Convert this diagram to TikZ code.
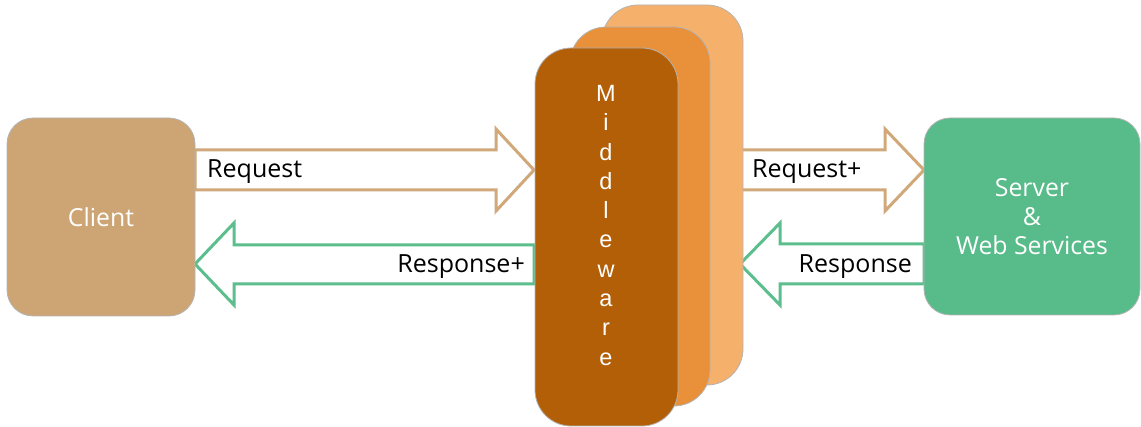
\documentclass[tikz,border=0pt]{standalone}
\usepackage{fontspec}
\usetikzlibrary{calc}
\setmainfont{Open Sans}
\newfontfamily\arialfont{Liberation Sans}
\definecolor{tan}{HTML}{CDA574}
\definecolor{tanline}{HTML}{D0A879}
\definecolor{grn}{HTML}{58BB8A}
\definecolor{grnline}{HTML}{5BBE8C}
\definecolor{orA}{HTML}{F5B06B}
\definecolor{orB}{HTML}{E8913A}
\definecolor{orC}{HTML}{B35F07}
\definecolor{edge}{HTML}{B4B4B4}
\begin{document}
\begin{tikzpicture}[x=1pt,y=-1pt,
  box/.style={draw=edge,line width=0.8pt,inner sep=0pt,text=white,
    font=\fontsize{24.8}{29}\selectfont,align=center},
  mwbox/.style={draw=edge,line width=0.8pt,rounded corners=36pt},
  reqarrow/.style={draw=tanline,fill=white,line width=3pt,line join=miter},
  resarrow/.style={draw=grnline,fill=white,line width=3pt,line join=miter},
  lbl/.style={inner sep=0pt,text=black,font=\fontsize{25}{30}\selectfont},
  mwtext/.style={inner sep=0pt,text=white,font=\arialfont\fontsize{23.5}{28}\selectfont}]
\useasboundingbox (0,0) rectangle (1141,427);
% arrows first
\draw[reqarrow] (195,150) -- (496,150) -- (496,129) -- (534,170) -- (496,211) -- (496,190) -- (195,190) -- cycle;
\draw[resarrow] (534,245) -- (234,245) -- (234,223) -- (195,264) -- (234,305) -- (234,284) -- (534,284) -- cycle;
\draw[reqarrow] (739,150) -- (885,150) -- (885,129) -- (924,170) -- (885,211) -- (885,190) -- (739,190) -- cycle;
\draw[resarrow] (924,244) -- (780,244) -- (780,223) -- (740,264) -- (780,305) -- (780,284) -- (924,284) -- cycle;
% boxes
\node[box,fill=tan,rounded corners=26pt,minimum width=188pt,minimum height=198pt] (client) at (101,217) {Client};
\node[box,fill=grn,rounded corners=26pt,minimum width=216pt,minimum height=197pt] (server) at (1032,216.5) {Server\\\&\\Web Services};
\draw[mwbox,fill=orA] (602,5) rectangle (743,385);
\draw[mwbox,fill=orB] (570,27) rectangle (710,406);
\draw[mwbox,fill=orC] (535,48) rectangle (678,426);
\coordinate (mwtop) at (606,101.5);
\foreach \l [count=\i from 0] in {M,i,d,d,l,e,w,a,r,e}
  \node[mwtext,anchor=base] (mw\i) at ($(mwtop)+(0,29.3*\i)$) {\l};
% labels
\node[lbl,anchor=west] (lreq) at (207,171.5) {Request};
\node[lbl,anchor=east] (lresp) at (525,266.5) {Response+};
\node[lbl,anchor=west] (lreqp) at (752,171.5) {Request+};
\node[lbl,anchor=east] (lres) at (912,266.5) {Response};
\end{tikzpicture}
\end{document}
